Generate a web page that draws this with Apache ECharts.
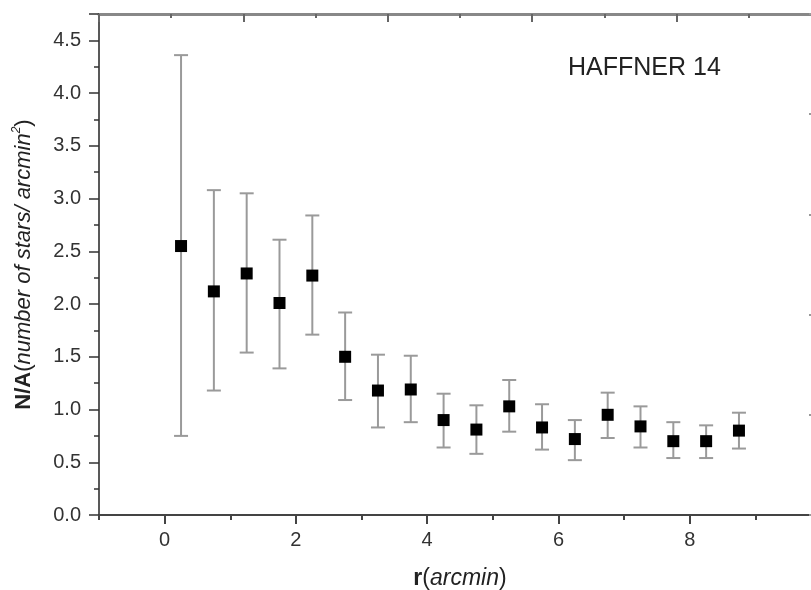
<!DOCTYPE html>
<html>
<head>
<meta charset="utf-8">
<script src="https://cdn.jsdelivr.net/npm/echarts@6/dist/echarts.min.js"></script>
<style>
  html, body { margin: 0; padding: 0; background: #fff; }
  #chart { width: 811px; height: 590px; }
</style>
</head>
<body>
<div id="chart"></div>
<script>
// Radial surface density profile of the cluster
var radius = [0.25, 0.75, 1.25, 1.75, 2.25, 2.75, 3.25, 3.75, 4.25, 4.75, 5.25, 5.75, 6.25, 6.75, 7.25, 7.75, 8.25, 8.75];
var density = [2.55, 2.12, 2.29, 2.01, 2.27, 1.50, 1.18, 1.19, 0.90, 0.81, 1.03, 0.83, 0.72, 0.95, 0.84, 0.70, 0.70, 0.80];
var errUpper = [4.36, 3.08, 3.05, 2.61, 2.84, 1.92, 1.52, 1.51, 1.15, 1.04, 1.28, 1.05, 0.90, 1.16, 1.03, 0.88, 0.85, 0.97];
var errLower = [0.75, 1.18, 1.54, 1.39, 1.71, 1.09, 0.83, 0.88, 0.64, 0.58, 0.79, 0.62, 0.52, 0.73, 0.64, 0.54, 0.54, 0.63];
var xTickValues = ['-1', '0', '1', '2', '3', '4', '5', '6', '7', '8', '9', '10'];
var clusterName = 'HAFFNER 14';

var FONT = 'Arial, "Liberation Sans", sans-serif';

var points = radius.map(function (r, i) { return [r, density[i]]; });
var bars = radius.map(function (r, i) { return [r, errLower[i], errUpper[i]]; });

var chart = echarts.init(document.getElementById('chart'), null, { renderer: 'canvas' });

chart.setOption({
  animation: false,
  backgroundColor: '#ffffff',
  title: {
    text: clusterName,
    left: 563,
    top: 51,
    textStyle: { fontFamily: FONT, fontSize: 25, fontWeight: 'normal', color: '#222' }
  },
  grid: {
    left: 99, right: -10, top: 14, bottom: 75,
    outerBoundsMode: 'none',
    containLabel: false
  },
  xAxis: [
    {
      // main bottom axis: labels at even radii, short ticks at every unit
      type: 'value', position: 'bottom',
      min: -1, max: 10, interval: 1,
      axisLine: { show: true, onZero: false, lineStyle: { color: '#444', width: 2 } },
      axisTick: { show: true, inside: false, length: 5, lineStyle: { color: '#444', width: 2 } },
      axisLabel: {
        show: true, margin: 15, color: '#333', fontFamily: FONT, fontSize: 20,
        formatter: function (v) { return (v >= 0 && v <= 8 && v % 2 === 0) ? String(v) : ''; }
      },
      splitLine: { show: false },
      name: '{b|r}{n|(}{i|arcmin}{n|)}',
      nameLocation: 'middle',
      nameGap: 52,
      nameTextStyle: {
        rich: {
          b: { fontFamily: FONT, fontSize: 23, fontWeight: 'bold', color: '#222' },
          n: { fontFamily: FONT, fontSize: 23, color: '#222' },
          i: { fontFamily: FONT, fontSize: 23, fontStyle: 'italic', color: '#222' }
        }
      }
    },
    {
      // longer ticks at the labelled even radii
      type: 'category', position: 'bottom', boundaryGap: false,
      data: xTickValues,
      axisLine: { show: false, onZero: false },
      axisTick: {
        show: true, inside: false, length: 9,
        interval: function (idx, val) { var n = Number(val); return n >= 0 && n % 2 === 0; },
        lineStyle: { color: '#444', width: 2 }
      },
      axisLabel: { show: false },
      splitLine: { show: false }
    },
    {
      // top frame axis
      type: 'value', position: 'top',
      min: 0, max: 5, interval: 1,
      axisLine: { show: true, onZero: false, lineStyle: { color: '#888', width: 3 } },
      axisTick: { show: true, inside: true, length: 8, lineStyle: { color: '#666', width: 2 } },
      minorTick: { show: true, splitNumber: 2, length: 4, lineStyle: { color: '#666', width: 2 } },
      axisLabel: { show: false },
      splitLine: { show: false }
    }
  ],
  yAxis: [
    {
      type: 'value', position: 'left',
      min: 0, max: 4.75, interval: 0.5,
      axisLine: { show: true, onZero: false, lineStyle: { color: '#222', width: 1.5 } },
      axisTick: { show: true, inside: false, length: 10, lineStyle: { color: '#333', width: 1.5 } },
      axisLabel: {
        show: true, margin: 18, color: '#333', fontFamily: FONT, fontSize: 20,
        formatter: function (v) { return v > 4.6 ? '' : v.toFixed(1); }
      },
      splitLine: { show: false },
      name: '{b|N/A}{n|(}{i|number of stars/ arcmin}{s|2}{n|)}',
      nameLocation: 'middle',
      nameGap: 62,
      nameTextStyle: {
        rich: {
          b: { fontFamily: FONT, fontSize: 22, fontWeight: 'bold', color: '#222', lineHeight: 26 },
          n: { fontFamily: FONT, fontSize: 22, color: '#222', lineHeight: 26 },
          i: { fontFamily: FONT, fontSize: 22, fontStyle: 'italic', color: '#222', lineHeight: 26 },
          s: { fontFamily: FONT, fontSize: 12, fontStyle: 'italic', color: '#222', verticalAlign: 'top', lineHeight: 26 }
        }
      }
    },
    {
      // quarter-step minor ticks on the left frame
      type: 'value', position: 'left',
      min: 0, max: 4.75, interval: 0.25,
      axisLine: { show: false, onZero: false },
      axisTick: { show: true, inside: false, length: 5, lineStyle: { color: '#333', width: 1.5 } },
      axisLabel: { show: false },
      splitLine: { show: false }
    },
    {
      // right frame axis
      type: 'value', position: 'right',
      min: 0, max: 5, interval: 1,
      axisLine: { show: true, onZero: false, lineStyle: { color: '#888', width: 2 } },
      axisTick: { show: true, inside: true, length: 12, lineStyle: { color: '#999', width: 2 } },
      axisLabel: { show: false },
      splitLine: { show: false }
    }
  ],
  series: [
    {
      name: 'error',
      type: 'custom',
      xAxisIndex: 0, yAxisIndex: 0,
      data: bars,
      z: 2,
      renderItem: function (params, api) {
        var x = api.value(0);
        var lo = api.coord([x, api.value(1)]);
        var hi = api.coord([x, api.value(2)]);
        var half = 7;
        var style = { stroke: '#9a9a9a', lineWidth: 2 };
        return {
          type: 'group',
          children: [
            { type: 'line', shape: { x1: lo[0], y1: lo[1], x2: hi[0], y2: hi[1] }, style: style },
            { type: 'line', shape: { x1: hi[0] - half, y1: hi[1], x2: hi[0] + half, y2: hi[1] }, style: style },
            { type: 'line', shape: { x1: lo[0] - half, y1: lo[1], x2: lo[0] + half, y2: lo[1] }, style: style }
          ]
        };
      }
    },
    {
      name: 'density',
      type: 'scatter',
      xAxisIndex: 0, yAxisIndex: 0,
      data: points,
      symbol: 'rect',
      symbolSize: 12,
      itemStyle: { color: '#000', opacity: 1 },
      z: 3
    }
  ]
});
</script>
</body>
</html>
